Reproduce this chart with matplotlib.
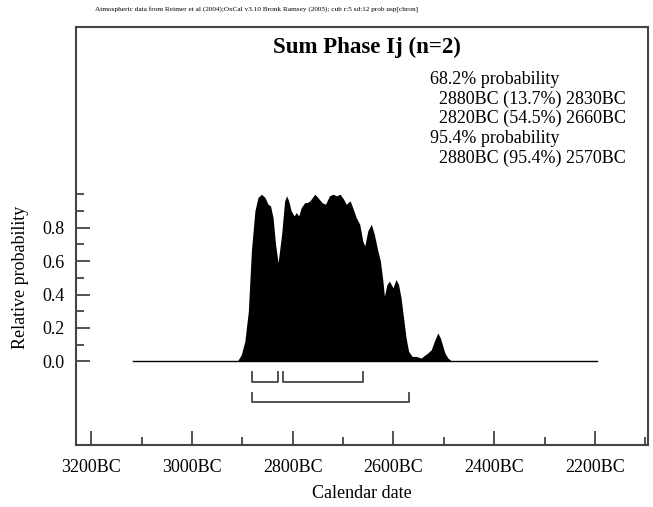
import numpy as np
import matplotlib.pyplot as plt
from matplotlib.ticker import FixedLocator, FuncFormatter

plt.rcParams['font.family'] = ['Liberation Serif', 'DejaVu Serif']

# probability curve (years BC, relative probability)
years = [2930, 2909, 2902, 2895, 2888, 2882, 2875, 2869, 2862, 2855, 2849, 2844,
         2839, 2834, 2829, 2822, 2816, 2812, 2808, 2803, 2797, 2793, 2788, 2783,
         2776, 2771, 2766, 2756, 2750, 2742, 2735, 2727, 2720, 2713, 2706, 2699,
         2694, 2686, 2681, 2674, 2667, 2661, 2657, 2651, 2644, 2638, 2631, 2626,
         2621, 2618, 2613, 2608, 2601, 2595, 2590, 2585, 2580, 2575, 2570, 2563,
         2555, 2545, 2539, 2532, 2525, 2519, 2512, 2507, 2502, 2498, 2492, 2486,
         2476, 2460]
prob = [0.0, 0.005, 0.04, 0.12, 0.30, 0.66, 0.90, 0.98, 1.0, 0.98, 0.94, 0.93,
        0.86, 0.70, 0.59, 0.76, 0.96, 0.99, 0.96, 0.90, 0.87, 0.89, 0.87, 0.92,
        0.95, 0.95, 0.96, 1.0, 0.98, 0.95, 0.94, 0.99, 1.0, 0.99, 1.0, 0.97,
        0.94, 0.96, 0.92, 0.86, 0.82, 0.72, 0.69, 0.78, 0.82, 0.76, 0.66, 0.60,
        0.48, 0.39, 0.46, 0.48, 0.44, 0.49, 0.46, 0.38, 0.26, 0.14, 0.06, 0.03,
        0.03, 0.02, 0.035, 0.05, 0.07, 0.12, 0.17, 0.14, 0.09, 0.05, 0.02, 0.005,
        0.0, 0.0]

# ranges
r68 = [(2880, 2830), (2820, 2660)]
r95 = [(2880, 2570)]
line_start, line_end = 3117, 2196

title = "Sum Phase Ij (n=2)"
info = ["68.2% probability", "  2880BC (13.7%) 2830BC", "  2820BC (54.5%) 2660BC",
        "95.4% probability", "  2880BC (95.4%) 2570BC"]
header = ("Atmospheric data from Reimer et al (2004);OxCal v3.10 Bronk Ramsey (2005); "
          "cub r:5 sd:12 prob usp[chron]")

W, H = 653, 507
fig = plt.figure(figsize=(W/100, H/100), dpi=100)
ax = fig.add_axes([76/W, (H-445)/H, 572/W, 418/H])

x = -np.array(years)
ax.fill_between(x, prob, 0, color='black', lw=0)
ax.plot([-line_start, -line_end], [0, 0], color='black', lw=1)

edge = '#444444'
for a, b in r68:
    ax.plot([-a, -a, -b, -b], [-0.065, -0.125, -0.125, -0.065], color=edge, lw=1.3)
for a, b in r95:
    ax.plot([-a, -a, -b, -b], [-0.19, -0.244, -0.244, -0.19], color=edge, lw=1.3)

ax.set_xlim(-3230, -2095)
ax.set_ylim(-0.5, 2.0)

ax.xaxis.set_major_locator(FixedLocator(np.arange(-3200, -2199, 200)))
ax.xaxis.set_minor_locator(FixedLocator(np.arange(-3100, -2099, 200)))
ax.xaxis.set_major_formatter(FuncFormatter(lambda v, p: f"{int(-v)}BC"))
ax.yaxis.set_major_locator(FixedLocator([0, 0.2, 0.4, 0.6, 0.8]))
ax.yaxis.set_minor_locator(FixedLocator([0.1, 0.3, 0.5, 0.7, 0.9, 1.0]))
ax.yaxis.set_major_formatter(FuncFormatter(lambda v, p: f"{v:.1f}"))
ax.tick_params(which='major', direction='in', length=10, width=1.3, color=edge,
               labelsize=13)
ax.tick_params(which='minor', direction='in', length=5.5, width=1.3, color=edge)
ax.tick_params(axis='x', which='major', pad=10)
ax.tick_params(axis='y', which='major', pad=8)
for s in ax.spines.values():
    s.set_color(edge)
    s.set_linewidth(1.5)

ax.set_xlabel("Calendar date", fontsize=13)
ax.xaxis.set_label_coords(0.5, -(493 - 445) / 418)
ax.xaxis.label.set_va('center')
ax.set_ylabel("Relative probability", fontsize=13)
ax.yaxis.set_label_coords(-(76 - 21) / 572, (445 - 277) / 418)
ax.yaxis.label.set_va('center')

fig.text(367/W, 1 - 47/H, title, ha='center', va='center',
         fontsize=16.5, fontweight='bold')
ys = [79, 99, 118, 138, 158]
for t, yp in zip(info, ys):
    fig.text(430/W, 1 - yp/H, t, ha='left', va='center', fontsize=13)

fig.text(95/W, 1 - 10/H, header, ha='left', va='center', fontsize=5.2)

fig.savefig("out.png", dpi=100)
